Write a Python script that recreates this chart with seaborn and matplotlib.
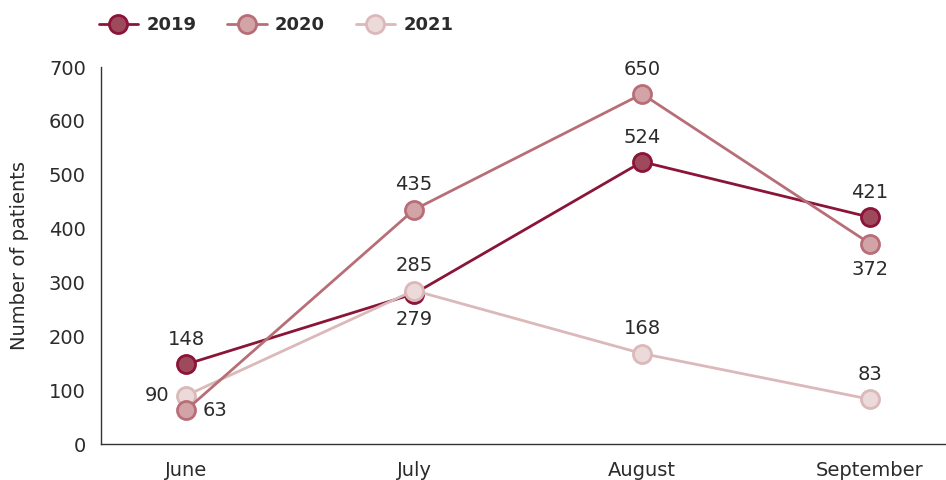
import matplotlib
matplotlib.use("Agg")
import matplotlib.pyplot as plt
from matplotlib.lines import Line2D
import seaborn as sns
import pandas as pd

months = ["June", "July", "August", "September"]
years = ["2019", "2020", "2021"]
patients_2019 = [148, 279, 524, 421]
patients_2020 = [63, 435, 650, 372]
patients_2021 = [90, 285, 168, 83]

# where each value label sits relative to its point
label_pos = {
    "2019": ["above", "below", "above", "above"],
    "2020": ["right", "above", "above", "below"],
    "2021": ["left", "above", "above", "above"],
}

styles = {
    "2019": dict(line="#8a1538", face="#9e4a5c", edge="#8a1538"),
    "2020": dict(line="#b86e77", face="#d3a4a7", edge="#b86e77"),
    "2021": dict(line="#dbb8ba", face="#ecdadb", edge="#dbb8ba"),
}

df = pd.DataFrame({
    "month": months * 3,
    "year": sum([[y] * 4 for y in years], []),
    "patients": patients_2019 + patients_2020 + patients_2021,
})

sns.set_theme(style="white")
plt.rcParams["font.family"] = ["DejaVu Sans"]
text_color = "#2b2b2b"
fs = 14

fig = plt.figure(figsize=(9.46, 4.8), dpi=100)
ax = fig.add_axes([0.1068, 0.075, 0.8932, 0.7854])

for y in ["2019", "2021", "2020"]:
    sub = df[df["year"] == y]
    st = styles[y]
    sns.lineplot(data=sub, x="month", y="patients", ax=ax, sort=False,
                 color=st["line"], linewidth=2, marker="o", markersize=13,
                 markerfacecolor=st["face"], markeredgecolor=st["edge"],
                 markeredgewidth=2, legend=False)

offsets = {
    "above": dict(xytext=(0, 11), ha="center", va="bottom"),
    "below": dict(xytext=(0, -12), ha="center", va="top"),
    "left": dict(xytext=(-12, 0), ha="right", va="center"),
    "right": dict(xytext=(12, 0), ha="left", va="center"),
}
for y in years:
    vals = df[df["year"] == y]["patients"].tolist()
    for i, v in enumerate(vals):
        o = offsets[label_pos[y][i]]
        ax.annotate(str(v), (i, v), textcoords="offset points",
                    xytext=o["xytext"], ha=o["ha"], va=o["va"],
                    fontsize=fs, color=text_color)

ax.set_xlim(-0.373, 3.333)
ax.set_ylim(0, 700)
ax.set_yticks(range(0, 701, 100))
ax.set_xlabel("")
ax.set_ylabel("Number of patients", fontsize=fs, color=text_color, labelpad=14)
ax.tick_params(axis="both", labelsize=fs, colors=text_color, length=0)
ax.tick_params(axis="y", pad=11)
ax.tick_params(axis="x", pad=12)
for s in ["top", "right"]:
    ax.spines[s].set_visible(False)
for s in ["left", "bottom"]:
    ax.spines[s].set_color("#333333")
    ax.spines[s].set_linewidth(1)

handles = [Line2D([0], [0], color=styles[y]["line"], lw=2, marker="o",
                  markersize=13, markerfacecolor=styles[y]["face"],
                  markeredgecolor=styles[y]["edge"], markeredgewidth=2)
           for y in years]
fig.legend(handles, years, loc="center left", bbox_to_anchor=(0.087, 0.947),
           ncol=3, frameon=False, handlelength=2.2, columnspacing=1.7,
           handletextpad=0.45, prop=dict(size=13, weight="bold"),
           labelcolor=text_color)

fig.savefig("out.png", dpi=100)
